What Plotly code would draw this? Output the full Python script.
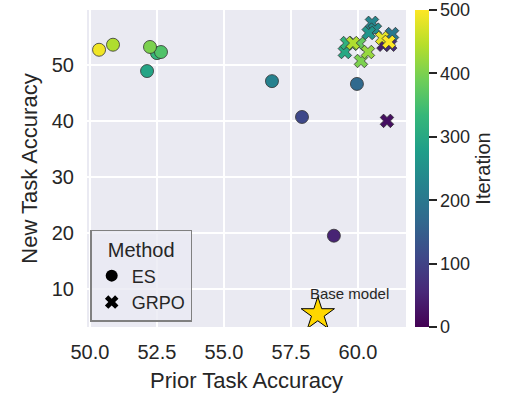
import plotly.graph_objects as go

# ES results
es_prior = [59.10, 57.91, 59.96, 56.79, 52.13, 52.50, 52.65, 52.24, 50.86, 50.34]
es_new = [19.5, 40.7, 46.6, 47.1, 48.9, 52.1, 52.3, 53.2, 53.6, 52.7]
es_iter = [50, 110, 170, 220, 290, 330, 360, 400, 440, 490]

# GRPO results
grpo_prior = [61.08, 60.95, 61.20, 61.27, 60.52, 60.63, 60.40, 59.51, 59.59, 60.04, 60.11, 60.37, 59.81, 60.90, 61.15]
grpo_new = [40.0, 53.6, 53.6, 55.5, 57.5, 56.3, 55.7, 52.3, 53.9, 53.75, 50.7, 52.3, 53.9, 54.8, 54.1]
grpo_iter = [20, 40, 60, 200, 230, 240, 260, 300, 320, 380, 400, 420, 440, 480, 500]

# Base model
base_prior = [58.5]
base_new = [5.5]

# colorbar ticks
cbar_ticks = [0, 100, 200, 300, 400, 500]

FONT = "Liberation Sans, Arial, sans-serif"
TXT = "#262626"

fig = go.Figure()

marker_common = dict(colorscale="Viridis", cmin=0, cmax=500,
                     line=dict(color="#333333", width=0.8))

fig.add_trace(go.Scatter(
    x=es_prior, y=es_new, mode="markers", showlegend=False,
    marker=dict(symbol="circle", size=13, color=es_iter, **marker_common),
))
fig.add_trace(go.Scatter(
    x=grpo_prior, y=grpo_new, mode="markers", showlegend=False,
    marker=dict(symbol="x", size=12, color=grpo_iter,
                colorbar=dict(
                    title=dict(text="Iteration", side="right",
                               font=dict(family=FONT, size=20, color=TXT)),
                    thickness=14, len=1, lenmode="fraction",
                    x=1.0, xanchor="left", xpad=9, ypad=0,
                    y=0.5, yanchor="middle",
                    tickvals=cbar_ticks,
                    ticks="outside", ticklen=8, tickcolor=TXT, tickwidth=1.5,
                    tickfont=dict(family=FONT, size=18, color=TXT),
                    outlinewidth=0,
                ),
                **marker_common),
))
fig.add_trace(go.Scatter(
    x=base_prior, y=base_new, mode="markers", showlegend=False,
    marker=dict(symbol="star", size=25, color="#FFD700",
                line=dict(color="black", width=1)),
))

# legend entries
fig.add_trace(go.Scatter(x=[None], y=[None], mode="markers", name="ES",
                         marker=dict(symbol="circle", size=11, color="black")))
fig.add_trace(go.Scatter(x=[None], y=[None], mode="markers", name="GRPO",
                         marker=dict(symbol="x", size=10, color="black")))

fig.add_annotation(x=base_prior[0], y=base_new[0], text="Base model",
                   showarrow=False, xshift=32, yshift=21,
                   font=dict(family=FONT, size=15, color=TXT))

fig.update_layout(
    width=513, height=399,
    margin=dict(l=87, r=107, t=10, b=72),
    paper_bgcolor="white", plot_bgcolor="#EAEAF2",
    font=dict(family=FONT, color=TXT),
    legend=dict(
        title=dict(text="Method", side="top center",
                   font=dict(family=FONT, size=20, color=TXT)),
        x=0.01, y=0.016, xanchor="left", yanchor="bottom",
        bgcolor="rgba(234,234,242,0.8)", bordercolor="#808080", borderwidth=1.5,
        font=dict(family=FONT, size=18, color=TXT),
        itemsizing="constant",
    ),
    xaxis=dict(
        range=[49.89, 61.79], tickvals=[50, 52.5, 55, 57.5, 60],
        ticktext=["50.0", "52.5", "55.0", "57.5", "60.0"],
        showgrid=True, gridcolor="white", gridwidth=1.5, zeroline=False,
        showline=False, ticks="", ticklabelstandoff=11,
        tickfont=dict(family=FONT, size=20, color=TXT),
        title=dict(text="Prior Task Accuracy", font=dict(family=FONT, size=22, color=TXT),
                   standoff=10),
    ),
    yaxis=dict(
        range=[3.2, 59.8], tickvals=[10, 20, 30, 40, 50],
        showgrid=True, gridcolor="white", gridwidth=1.5, zeroline=False,
        showline=False, ticks="", ticklabelstandoff=12,
        tickfont=dict(family=FONT, size=20, color=TXT),
        title=dict(text="New Task Accuracy", font=dict(family=FONT, size=22, color=TXT),
                   standoff=8),
    ),
)

fig.write_html("out.html")
